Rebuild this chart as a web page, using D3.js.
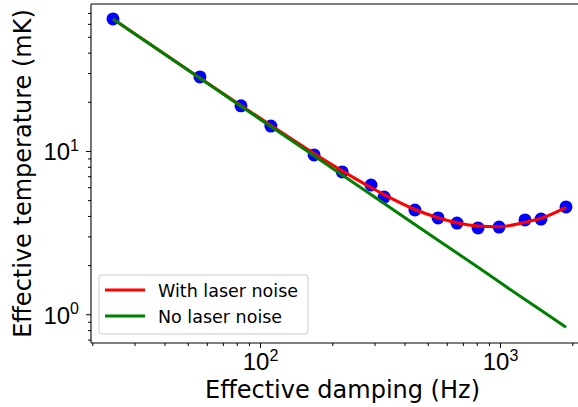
<!DOCTYPE html>
<html>
<head>
<meta charset="utf-8">
<script src="https://cdn.jsdelivr.net/npm/d3@7"></script>
<style>
  body { margin: 0; background: #fff; }
  svg { display: block; font-family: 'DejaVu Sans', sans-serif; }
</style>
</head>
<body>
<div id="chart"></div>
<script>
// measured data (Hz, mK)
const damping = [24.4, 56.2, 83.3, 111, 168, 220, 290, 329, 442, 552, 662, 810, 991, 1271, 1482, 1884]
const temperature = [64.3, 28.4, 18.9, 14.2, 9.45, 7.44, 6.19, 5.22, 4.35, 3.89, 3.62, 3.38, 3.42, 3.78, 3.83, 4.54]
// fitted curves
const withLaserNoise = [64.3, 28.0, 19.0, 14.35, 9.65, 7.55, 5.97, 5.4, 4.38, 3.9, 3.63, 3.47, 3.44, 3.66, 3.87, 4.52]
const noLaserNoise = [64.3, 27.9, 18.8, 14.1, 9.34, 7.13, 5.41, 4.77, 3.55, 2.84, 2.37, 1.94, 1.58, 1.23, 1.06, 0.833]
const seriesNames = ['With laser noise', 'No laser noise']
const xMajor = [100, 1000]
const xMinor = [20, 30, 40, 50, 60, 70, 80, 90, 200, 300, 400, 500, 600, 700, 800, 900, 2000]
const yMajor = [1, 10]
const yMinor = [0.7, 0.8, 0.9, 2, 3, 4, 5, 6, 7, 8, 9, 20, 30, 40, 50, 60, 70]

const width = 578
const height = 407
const plot = { left: 91, right: 600, top: 4, bottom: 343 }

const svg = d3.select('#chart').append('svg')
  .attr('width', width)
  .attr('height', height)

const x = d3.scaleLog().domain([19.76, 2610]).range([plot.left, plot.right])
const y = d3.scaleLog().domain([0.667, 79.4]).range([plot.bottom, plot.top])

// points first, lines drawn on top
svg.append('g')
  .selectAll('circle')
  .data(damping)
  .enter().append('circle')
  .attr('cx', d => x(d))
  .attr('cy', (d, i) => y(temperature[i]))
  .attr('r', 6.5)
  .attr('fill', '#0000ff')

const line = d3.line()
  .x((d, i) => x(damping[i]))
  .y(d => y(d))
  .curve(d3.curveMonotoneX)

svg.append('path')
  .attr('d', line(withLaserNoise))
  .attr('fill', 'none')
  .attr('stroke', '#ff0000')
  .attr('stroke-width', 3)

svg.append('path')
  .attr('d', line.curve(d3.curveLinear)(noLaserNoise))
  .attr('fill', 'none')
  .attr('stroke', '#008000')
  .attr('stroke-width', 3)

// spines
svg.append('line').attr('x1', plot.left).attr('x2', width).attr('y1', plot.top).attr('y2', plot.top)
  .attr('stroke', '#000').attr('stroke-width', 1.1)
svg.append('line').attr('x1', plot.left).attr('x2', plot.left).attr('y1', plot.top).attr('y2', plot.bottom)
  .attr('stroke', '#000').attr('stroke-width', 1.1)

// axes
function styleAxis (g) {
  g.select('.domain').remove()
  g.selectAll('.tick line').attr('stroke', '#000').attr('stroke-width', 1)
}

svg.append('g')
  .attr('transform', `translate(0,${plot.bottom})`)
  .call(d3.axisBottom(x).tickValues(xMinor).tickSize(3).tickFormat(''))
  .call(styleAxis)

const xAxis = svg.append('g')
  .attr('transform', `translate(0,${plot.bottom})`)
  .call(d3.axisBottom(x).tickValues(xMajor).tickSize(5).tickSizeOuter(0).tickFormat(''))
  .call(styleAxis)
svg.append('line').attr('x1', plot.left).attr('x2', width).attr('y1', plot.bottom).attr('y2', plot.bottom)
  .attr('stroke', '#000').attr('stroke-width', 1.1)

svg.append('g')
  .attr('transform', `translate(${plot.left},0)`)
  .call(d3.axisLeft(y).tickValues(yMinor).tickSize(3).tickFormat(''))
  .call(styleAxis)

const yAxis = svg.append('g')
  .attr('transform', `translate(${plot.left},0)`)
  .call(d3.axisLeft(y).tickValues(yMajor).tickSize(5).tickFormat(''))
  .call(styleAxis)

function powLabel (sel, v) {
  const e = Math.round(Math.log10(v))
  sel.append('tspan').text('10')
  sel.append('tspan').attr('font-size', 16).attr('dy', -9.5).text(e)
}

xAxis.selectAll('.tick').each(function (d) {
  const t = d3.select(this).append('text')
    .attr('x', 0).attr('y', 27)
    .attr('text-anchor', 'middle')
    .attr('fill', '#000')
    .attr('font-size', 24)
  powLabel(t, d)
})

yAxis.selectAll('.tick').each(function (d) {
  const t = d3.select(this).append('text')
    .attr('x', -12).attr('y', 9)
    .attr('text-anchor', 'end')
    .attr('fill', '#000')
    .attr('font-size', 24)
  powLabel(t, d)
})

// axis titles
svg.append('text')
  .attr('x', (plot.left + 578) / 2 + 8)
  .attr('y', 398)
  .attr('text-anchor', 'middle')
  .attr('font-size', 24)
  .attr('fill', '#000')
  .text('Effective damping (Hz)')

svg.append('text')
  .attr('transform', `translate(31,${(plot.top + plot.bottom) / 2}) rotate(-90)`)
  .attr('text-anchor', 'middle')
  .attr('font-size', 24)
  .attr('fill', '#000')
  .text('Effective temperature (mK)')

// legend
const legend = svg.append('g').attr('transform', 'translate(99,275)')
legend.append('rect')
  .attr('width', 209).attr('height', 59)
  .attr('rx', 3)
  .attr('fill', '#fff').attr('fill-opacity', 0.8)
  .attr('stroke', '#cccccc').attr('stroke-width', 1)

const legendColors = ['#ff0000', '#008000']
seriesNames.forEach((name, i) => {
  const row = legend.append('g').attr('transform', `translate(0,${15 + i * 26})`)
  row.append('line')
    .attr('x1', 6).attr('x2', 46)
    .attr('stroke', legendColors[i]).attr('stroke-width', 3)
  row.append('text')
    .attr('x', 59).attr('y', 7)
    .attr('font-size', 17.5)
    .attr('fill', '#000')
    .text(name)
})
</script>
</body>
</html>
